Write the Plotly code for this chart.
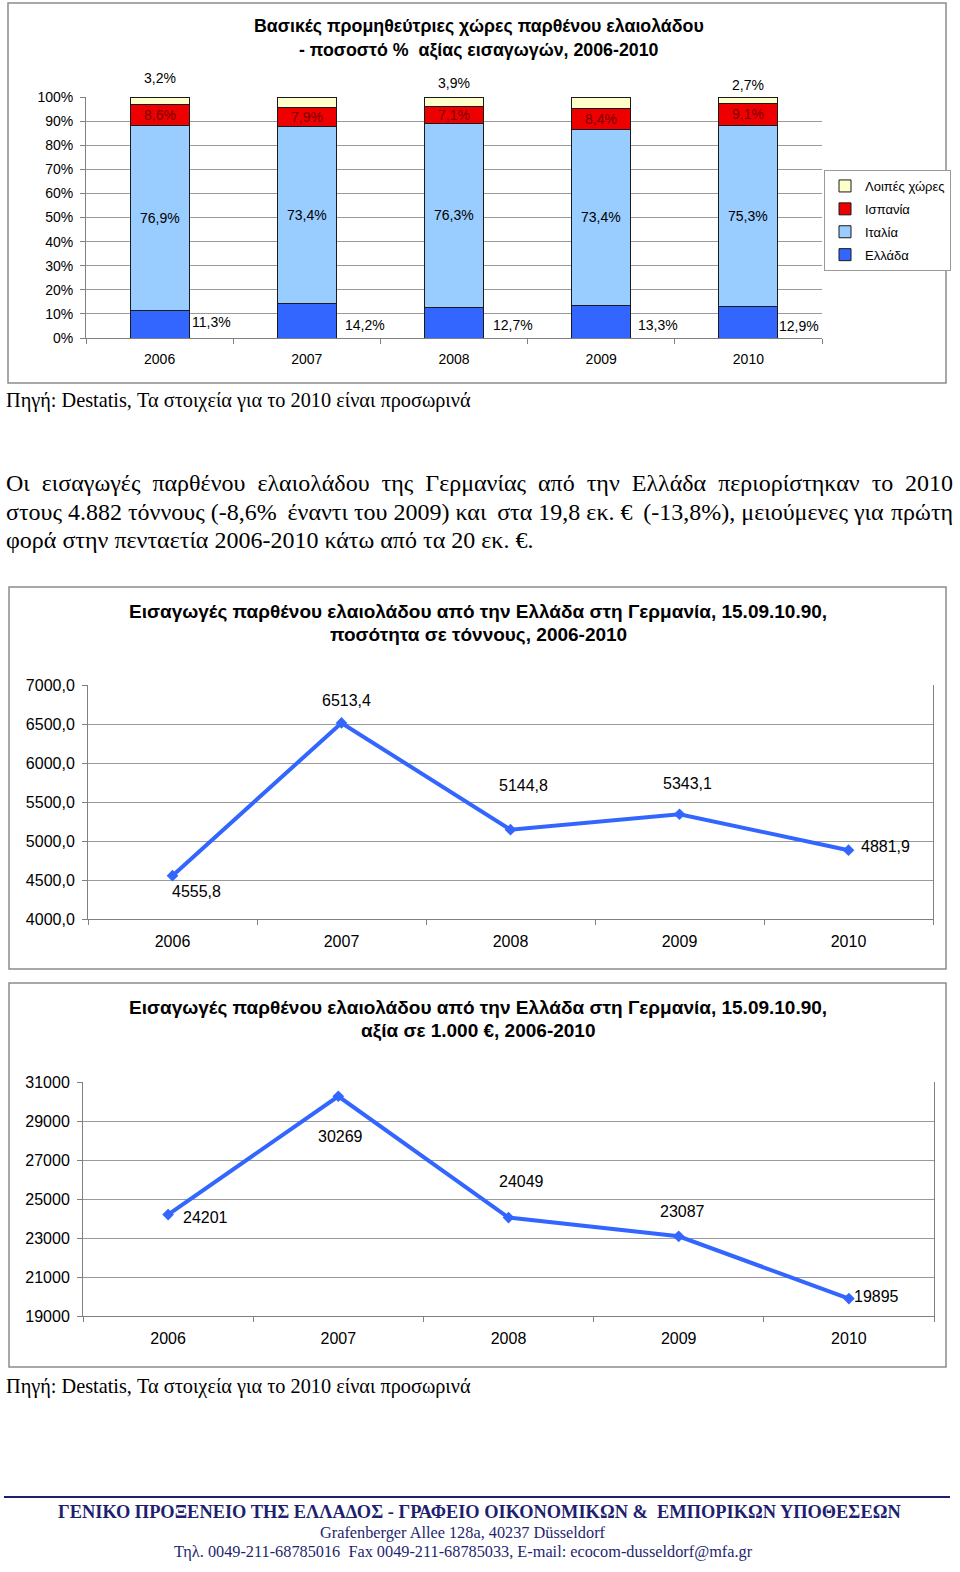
import plotly.graph_objects as go

W, H = 960, 1572
def px(x): return x / W
def py(y): return 1 - y / H

# ---------------- data ----------------
years = [2006, 2007, 2008, 2009, 2010]
greece = [11.3, 14.2, 12.7, 13.3, 12.9]
italy = [76.9, 73.4, 76.3, 73.4, 75.3]
spain = [8.6, 7.9, 7.1, 8.4, 9.1]
others = [3.2, 4.5, 3.9, 4.9, 2.7]
series_names = ["Ελλάδα", "Ιταλία", "Ισπανία", "Λοιπές χώρες"]
pct_ticks = list(range(0, 101, 10))
pct_labels = [f"{v}%" for v in pct_ticks]

tonnes = [4555.8, 6513.4, 5144.8, 5343.1, 4881.9]
value_keur = [24201, 30269, 24049, 23087, 19895]

title1 = ["Βασικές προμηθεύτριες χώρες παρθένου ελαιολάδου",
          "- ποσοστό %  αξίας εισαγωγών, 2006-2010"]
title2 = ["Εισαγωγές παρθένου ελαιολάδου από την Ελλάδα στη Γερμανία, 15.09.10.90,",
          "ποσότητα σε τόννους, 2006-2010"]
title3 = ["Εισαγωγές παρθένου ελαιολάδου από την Ελλάδα στη Γερμανία, 15.09.10.90,",
          "αξία σε 1.000 €, 2006-2010"]
source_txt = "Πηγή: Destatis, Τα στοιχεία για το 2010 είναι προσωρινά"
para_lines = [
    "Οι εισαγωγές παρθένου ελαιολάδου της Γερμανίας από την Ελλάδα περιορίστηκαν το 2010",
    "στους 4.882 τόννους (-8,6% έναντι του 2009) και στα 19,8 εκ. € (-13,8%), μειούμενες για πρώτη",
    "φορά στην πενταετία 2006-2010 κάτω από τα 20 εκ. €.",
]
footer = ["ΓΕΝΙΚΟ ΠΡΟΞΕΝΕΙΟ ΤΗΣ ΕΛΛΑΔΟΣ - ΓΡΑΦΕΙΟ ΟΙΚΟΝΟΜΙΚΩΝ &  ΕΜΠΟΡΙΚΩΝ ΥΠΟΘΕΣΕΩΝ",
          "Grafenberger Allee 128a, 40237 Düsseldorf",
          "Τηλ. 0049-211-68785016  Fax 0049-211-68785033, E-mail: ecocom-dusseldorf@mfa.gr"]

# ---------------- styles ----------------
SANS = "Liberation Sans, Arial, sans-serif"
SERIF = "Liberation Serif, Times New Roman, serif"
C_GR = "#3366FF"
C_IT = "#99CCFF"
C_ES = "#EE0000"
C_OT = "#FFFFCC"
LINE_C = "#3366FF"
GRID = "#9A9A9A"
AXIS = "#808080"
NAVY = "#1F1F6F"

fig = go.Figure()

bar_colors = [C_GR, C_IT, C_ES, C_OT]
ranks = [4, 3, 2, 1]
for name, vals, col, rk in zip(series_names, [greece, italy, spain, others], bar_colors, ranks):
    fig.add_trace(go.Bar(x=years, y=vals, name=name, legendgroup=name, legendrank=rk, width=0.4,
                         marker=dict(color=col, line=dict(color="#1a1a1a", width=1)),
                         xaxis="x", yaxis="y", hoverinfo="skip"))

fig.add_trace(go.Scatter(x=years, y=tonnes, mode="lines+markers", showlegend=False,
                         line=dict(color=LINE_C, width=4),
                         marker=dict(symbol="diamond", size=9, color=LINE_C),
                         xaxis="x2", yaxis="y2"))
fig.add_trace(go.Scatter(x=years, y=value_keur, mode="lines+markers", showlegend=False,
                         line=dict(color=LINE_C, width=4),
                         marker=dict(symbol="diamond", size=9, color=LINE_C),
                         xaxis="x3", yaxis="y3"))

ann = []
def text(x, y, s, size, font=SANS, color="#000", bold=False, xanchor="center", **kw):
    if bold:
        s = "<b>" + s + "</b>"
    ann.append(dict(x=px(x), y=py(y), xref="paper", yref="paper", text=s, showarrow=False,
                    xanchor=xanchor, yanchor="middle", font=dict(family=font, size=size, color=color), **kw))

# titles
text(479, 26, title1[0], 17.8, bold=True)
text(479, 50, title1[1], 17.8, bold=True)
text(478, 611, title2[0], 19, bold=True)
text(478, 634, title2[1], 19, bold=True)
text(478, 1007, title3[0], 19, bold=True)
text(478, 1031, title3[1], 19, bold=True)

def fmt(v, d=1):
    return f"{v:.{d}f}".replace(".", ",")

# bar labels
others_dy = [19, 16, 14, 18, 12]
greece_dx = [52, 58, 59, 57, 51]
greece_dy = [16, 13, 13, 13, 12]
for i, yr in enumerate(years):
    base_it = greece[i]
    base_es = greece[i] + italy[i]
    top = greece[i] + italy[i] + spain[i] + others[i]
    ann.append(dict(x=yr, y=base_it + italy[i] / 2, xref="x", yref="y", text=fmt(italy[i]) + "%",
                    showarrow=False, font=dict(family=SANS, size=14, color="#000")))
    ann.append(dict(x=yr, y=base_es + spain[i] / 2, xref="x", yref="y", text=fmt(spain[i]) + "%",
                    showarrow=False, font=dict(family=SANS, size=14, color="#7A0000")))
    ann.append(dict(x=yr, y=top, xref="x", yref="y", text=fmt(others[i]) + "%", yshift=others_dy[i],
                    showarrow=False, font=dict(family=SANS, size=14, color="#000")))
    ann.append(dict(x=yr, y=0, xref="x", yref="y", text=fmt(greece[i]) + "%", yshift=greece_dy[i],
                    xshift=greece_dx[i], showarrow=False, font=dict(family=SANS, size=14, color="#000")))

# line labels
t_dx = [24, 5, 13, 8, 37]
t_dy = [-16, 22, 44, 31, 4]
for i, yr in enumerate(years):
    ann.append(dict(x=yr, y=tonnes[i], xref="x2", yref="y2", text=fmt(tonnes[i]), xshift=t_dx[i],
                    yshift=t_dy[i], showarrow=False, font=dict(family=SANS, size=16, color="#000")))
v_dx = [37, 2, 13, 4, 28]
v_dy = [-3, -40, 36, 25, 2]
for i, yr in enumerate(years):
    ann.append(dict(x=yr, y=value_keur[i], xref="x3", yref="y3", text=str(value_keur[i]), xshift=v_dx[i],
                    yshift=v_dy[i], showarrow=False, font=dict(family=SANS, size=16, color="#000")))

# source lines
text(4, 401, source_txt, 20.3, font=SERIF, xanchor="left")
text(4, 1386, source_txt, 20.3, font=SERIF, xanchor="left")

# justified paragraph
NB = "\u00a0"
TH = "\u2009"
def justified(y, line, gaps):
    words = line.split(" ")
    head = words[0]
    for k, w in enumerate(words[1:-1]):
        head += gaps[k % len(gaps)] + w
    text(4, y, head, 24, font=SERIF, xanchor="left")
    text(955, y, words[-1], 24, font=SERIF, xanchor="right")

justified(483, para_lines[0], [NB * 2])
justified(512, para_lines[1], [NB, NB, NB, NB + TH])
text(4, 540, para_lines[2], 24, font=SERIF, xanchor="left")

# footer
text(479, 1512, footer[0], 18.4, font=SERIF, color=NAVY, bold=True)
text(463, 1532, footer[1], 16.3, font=SERIF, color=NAVY)
text(463, 1551, footer[2], 16.3, font=SERIF, color=NAVY)

shapes = []
for (x0, y0, x1, y1) in [(8, 3, 946, 383), (9, 587, 946, 969), (9, 983, 946, 1367)]:
    shapes.append(dict(type="rect", xref="paper", yref="paper", x0=px(x0), x1=px(x1), y0=py(y1), y1=py(y0),
                       line=dict(color="#8C8C8C", width=1.5), fillcolor="rgba(0,0,0,0)", layer="below"))
shapes.append(dict(type="line", xref="paper", yref="paper", x0=px(4), x1=px(950), y0=py(1497), y1=py(1497),
                   line=dict(color=NAVY, width=2)))

def xax(domain, anchor, size):
    return dict(domain=domain, anchor=anchor, range=[2005.5, 2010.5], tickmode="array", tickvals=years,
                tickformat="d", ticks="", showline=True, linecolor=AXIS, linewidth=1, showgrid=False,
                zeroline=False, ticklabelstandoff=8, automargin=False, tickfont=dict(size=size),
                minor=dict(tick0=2005.5, dtick=1, ticks="outside", ticklen=5, tickcolor=AXIS, showgrid=False))

common_y = dict(showline=True, linecolor=AXIS, linewidth=1, ticks="outside", ticklen=5, tickcolor=AXIS,
                showgrid=True, gridcolor=GRID, gridwidth=1, zeroline=False, ticklabelstandoff=4,
                automargin=False)

fig.update_layout(
    width=W, height=H, autosize=False,
    margin=dict(l=0, r=0, t=0, b=0, autoexpand=False),
    paper_bgcolor="white", plot_bgcolor="white",
    separators=",.",
    barmode="stack",
    font=dict(family=SANS, color="#000"),
    showlegend=True,
    legend=dict(x=px(824), y=py(170), xanchor="left", yanchor="top", traceorder="grouped",
                bordercolor="#9A9A9A", borderwidth=1, bgcolor="white", tracegroupgap=3,
                font=dict(family=SANS, size=13), itemwidth=30),
    xaxis=xax([px(86), px(822)], "y", 14),
    yaxis=dict(domain=[py(338), py(97)], anchor="x", range=[0, 100], tickmode="array", tickvals=pct_ticks,
               ticktext=pct_labels, tickfont=dict(size=14), **common_y),
    xaxis2=xax([px(88), px(933)], "y2", 16),
    yaxis2=dict(domain=[py(919), py(685)], anchor="x2", range=[4000, 7000], tick0=4000, dtick=500,
                tickformat=".1f", tickfont=dict(size=16), mirror=True, **common_y),
    xaxis3=xax([px(83), px(934)], "y3", 16),
    yaxis3=dict(domain=[py(1316), py(1082)], anchor="x3", range=[19000, 31000], tick0=19000, dtick=2000,
                tickformat="d", tickfont=dict(size=16), mirror=True, **common_y),
    annotations=ann,
    shapes=shapes,
)

fig.write_html("out.html", config={"displayModeBar": False},
               post_script="document.body.style.margin='0';document.body.style.overflow='hidden';")
